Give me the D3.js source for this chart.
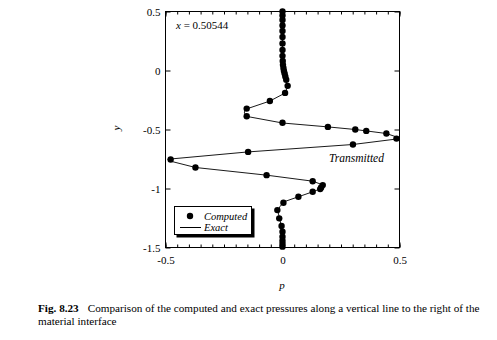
<!DOCTYPE html>
<html><head><meta charset="utf-8">
<script src="https://cdn.jsdelivr.net/npm/d3@7/dist/d3.min.js"></script>
<style>
body{margin:0;background:#fff;}
svg{display:block;font-family:"Liberation Serif","Times New Roman",serif;}
</style></head>
<body><svg id="c" width="497" height="340"></svg>
<script>
// Computed points (p, y)
const computedP = [0,0,0,0,0,0,0,0,0,0.001,0.002,0.004,0.006,0.009,0.012,0.016,0.022,0.011,-0.054,-0.153,-0.153,0,0.194,0.311,0.358,0.444,0.487,0.301,-0.147,-0.478,-0.372,-0.068,0.129,0.172,0.165,0.161,0.129,0.068,0.004,-0.022,-0.014,-0.004,0,0,0,0,0];
const computedY = [0.5,0.466,0.428,0.382,0.335,0.284,0.229,0.174,0.124,0.081,0.048,0.022,-0.003,-0.026,-0.05,-0.079,-0.13,-0.19,-0.259,-0.323,-0.388,-0.443,-0.478,-0.5,-0.512,-0.534,-0.577,-0.627,-0.69,-0.754,-0.822,-0.887,-0.938,-0.971,-0.991,-1.005,-1.028,-1.07,-1.121,-1.183,-1.253,-1.318,-1.366,-1.409,-1.442,-1.47,-1.493];
// Exact solution line (p, y)
const exactP = [0,0,0.002,0.006,0.014,0.022,0.012,-0.054,-0.16,-0.163,-0.15,0,0.194,0.311,0.358,0.444,0.5,0.49,0.301,-0.147,-0.49,-0.485,-0.372,-0.068,0.129,0.18,0.165,0.129,0.068,0.01,-0.01,-0.02,-0.012,-0.003,0,0];
const exactY = [0.5,0.1,0.0,-0.04,-0.08,-0.13,-0.19,-0.259,-0.33,-0.36,-0.39,-0.445,-0.478,-0.5,-0.512,-0.534,-0.572,-0.58,-0.627,-0.69,-0.752,-0.765,-0.822,-0.887,-0.938,-0.975,-1.0,-1.028,-1.07,-1.11,-1.15,-1.19,-1.26,-1.33,-1.4,-1.5];
const xMajor = [-0.5,0,0.5];
const yMajor = [-1.5,-1,-0.5,0,0.5];
const xMinor = d3.range(-10,11).map(i=>i*0.05);

const svg = d3.select("#c");
const L=165.5,R=399.5,T=11.5,B=247.5;
const x = d3.scaleLinear().domain([-0.5,0.5]).range([L,R]);
const y = d3.scaleLinear().domain([-1.5,0.5]).range([B,T]);
const fmt = d => d===0 ? "0" : String(d);

// frame
svg.append("rect").attr("x",L).attr("y",T).attr("width",R-L).attr("height",B-T)
  .attr("fill","none").attr("stroke","#000").attr("stroke-width",1);

// minor ticks top & bottom
svg.append("g").attr("transform",`translate(0,${B})`)
  .call(d3.axisBottom(x).tickValues(xMinor).tickSizeInner(-3).tickSizeOuter(0).tickFormat(""))
  .call(g=>g.select(".domain").remove());
svg.append("g").attr("transform",`translate(0,${T})`)
  .call(d3.axisTop(x).tickValues(xMinor).tickSizeInner(-3).tickSizeOuter(0).tickFormat(""))
  .call(g=>g.select(".domain").remove());
// major bottom with labels
svg.append("g").attr("transform",`translate(0,${B})`)
  .call(d3.axisBottom(x).tickValues(xMajor).tickSizeInner(-5).tickSizeOuter(0).tickPadding(9).tickFormat(fmt))
  .call(g=>g.select(".domain").remove())
  .call(g=>g.selectAll("text").attr("font-size",11).attr("font-family","Liberation Serif"));
svg.append("g").attr("transform",`translate(0,${T})`)
  .call(d3.axisTop(x).tickValues(xMajor).tickSizeInner(-5).tickSizeOuter(0).tickFormat(""))
  .call(g=>g.select(".domain").remove());
// left/right
svg.append("g").attr("transform",`translate(${L},0)`)
  .call(d3.axisLeft(y).tickValues(yMajor).tickSizeInner(-5).tickSizeOuter(0).tickPadding(5).tickFormat(fmt))
  .call(g=>g.select(".domain").remove())
  .call(g=>g.selectAll("text").attr("font-size",11).attr("font-family","Liberation Serif"));
svg.append("g").attr("transform",`translate(${R},0)`)
  .call(d3.axisRight(y).tickValues(yMajor).tickSizeInner(-5).tickSizeOuter(0).tickFormat(""))
  .call(g=>g.select(".domain").remove());

// exact line
const pts = exactP.map((p,i)=>[p,exactY[i]]);
svg.append("path").datum(pts)
  .attr("d",d3.line().x(d=>x(d[0])).y(d=>y(d[1])))
  .attr("fill","none").attr("stroke","#000").attr("stroke-width",0.9);
// computed dots
svg.append("g").selectAll("circle").data(computedP.map((p,i)=>[p,computedY[i]])).join("circle")
  .attr("cx",d=>x(d[0])).attr("cy",d=>y(d[1])).attr("r",3.2).attr("fill","#000");

// annotations
const t1 = svg.append("text").attr("x",176).attr("y",29).attr("font-size",11);
t1.append("tspan").attr("font-style","italic").text("x");
t1.append("tspan").text(" = 0.50544");
svg.append("text").attr("x",329).attr("y",162).attr("font-size",11.5).attr("font-style","italic").text("Transmitted");

// legend
svg.append("rect").attr("x",176.5).attr("y",208.5).attr("width",78).attr("height",29).attr("fill","#000");
svg.append("rect").attr("x",174.5).attr("y",206.5).attr("width",77).attr("height",28).attr("fill","#fff").attr("stroke","#000");
svg.append("circle").attr("cx",190).attr("cy",216).attr("r",3.2).attr("fill","#000");
svg.append("text").attr("x",204).attr("y",220).attr("font-size",10.5).attr("font-style","italic").text("Computed");
svg.append("line").attr("x1",180).attr("x2",201).attr("y1",227.5).attr("y2",227.5).attr("stroke","#000");
svg.append("text").attr("x",204).attr("y",231).attr("font-size",10.5).attr("font-style","italic").text("Exact");

// axis titles
svg.append("text").attr("x",282).attr("y",289).attr("text-anchor","middle").attr("font-size",11).attr("font-style","italic").text("p");
svg.append("text").attr("transform","translate(120,128) rotate(-90)").attr("text-anchor","middle").attr("font-size",11).attr("font-style","italic").text("y");

// caption
const cap = svg.append("text").attr("x",38).attr("y",312).attr("font-size",11.2);
cap.append("tspan").attr("font-weight","bold").text("Fig. 8.23");
cap.append("tspan").attr("dx",9).text("Comparison of the computed and exact pressures along a vertical line to the right of the");
svg.append("text").attr("x",38).attr("y",325).attr("font-size",11.2).text("material interface");
</script></body></html>
